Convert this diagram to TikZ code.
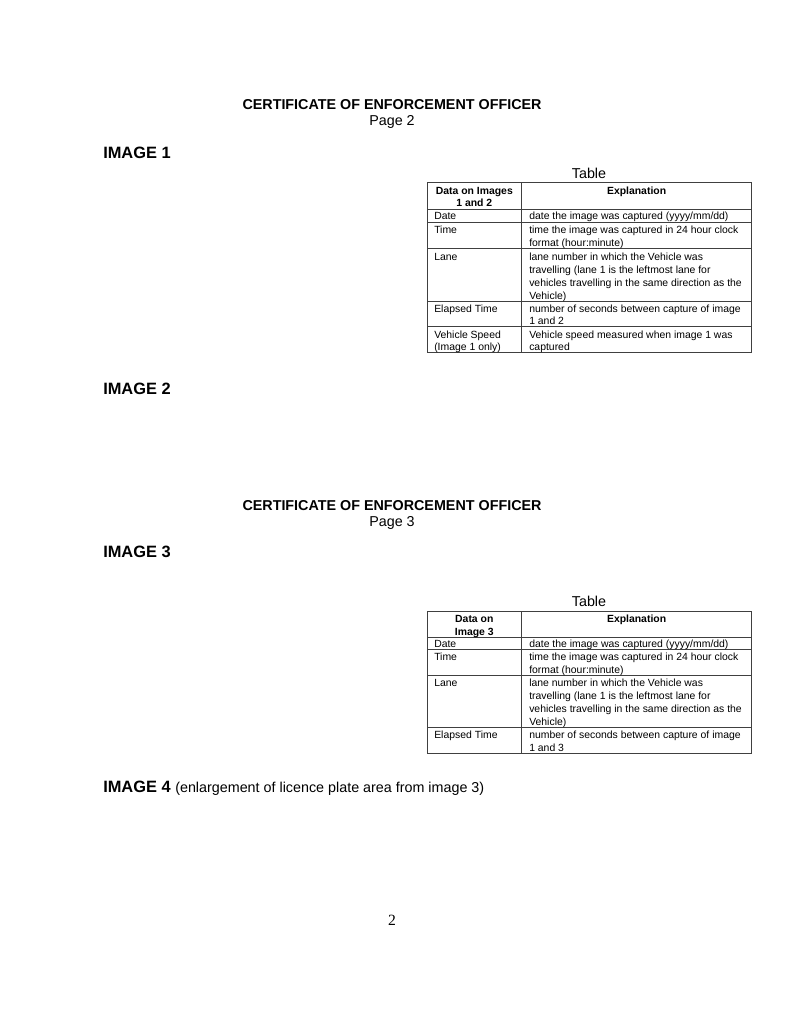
\documentclass[tikz,border=0pt]{standalone}
\usepackage{fontspec}
\setmainfont{Liberation Sans}
\newfontfamily\pagenumfont{Liberation Serif}
\tikzset{
  pagetitle/.style={font=\fontsize{11}{13}\selectfont\bfseries, anchor=base, inner sep=0pt},
  pagesub/.style={font=\fontsize{11}{13}\selectfont, anchor=base, inner sep=0pt},
  imghead/.style={font=\fontsize{12.6}{15}\selectfont\bfseries, anchor=base west, inner sep=0pt},
  tablelabel/.style={font=\fontsize{11}{13}\selectfont, anchor=base, inner sep=0pt},
  celltext/.style={font=\fontsize{8}{10}\selectfont, anchor=base west, inner sep=0pt},
  cellhead/.style={font=\fontsize{8}{10}\selectfont\bfseries, anchor=base, inner sep=0pt},
  gridline/.style={draw=black!75, line width=0.6pt},
  pagenum/.style={font=\pagenumfont\fontsize{12}{14}\selectfont, anchor=base, inner sep=0pt}
}
\begin{document}
\begin{tikzpicture}[x=0.7678pt, y=-0.7678pt]
\useasboundingbox (0,0) rectangle (800,1035);
\fill[white] (0,0) rectangle (800,1035);

% ---------- Page 2 section ----------
\node[pagetitle] (t1) at (392,110) {CERTIFICATE OF ENFORCEMENT OFFICER};
\node[pagesub] (p2) at (392,125) {Page 2};
\node[imghead] (im1) at (103,158.5) {IMAGE 1};
\node[tablelabel] (tl1) at (589,178.3) {Table};

% table 1 grid
\coordinate (a0) at (427,182.7);
\coordinate (a1) at (751.5,352.7);
\draw[gridline] (a0) rectangle (a1);
\draw[gridline] (521.7,182.7) -- (521.7,352.7);
\foreach \yy in {208.9,222.7,248.7,300.9,326.7}
  \draw[gridline] (427,\yy) -- (751.5,\yy);

% table 1 text
\node[cellhead] (h1a) at (474.3,194.2) {Data on Images};
\node[cellhead] (h1b) at (474.3,206.8) {1 and 2};
\node[cellhead] (h1c) at (636.6,194.2) {Explanation};

\node[celltext] (d1l) at (434,219.8) {Date};
\node[celltext] (d1r) at (529,219.8) {date the image was captured (yyyy/mm/dd)};

\node[celltext] (tm1l) at (434,233.8) {Time};
\node[celltext] (tm1r) at (529,233.8) {time the image was captured in 24 hour clock};
\node[celltext] (tm1r2) at (529,246.3) {format (hour:minute)};

\node[celltext] (ln1l) at (434,260.2) {Lane};
\node[celltext] (ln1r) at (529,260.2) {lane number in which the Vehicle was};
\node[celltext] (ln1r2) at (529,273.2) {travelling (lane 1 is the leftmost lane for};
\node[celltext] (ln1r3) at (529,286.2) {vehicles travelling in the same direction as the};
\node[celltext] (ln1r4) at (529,299) {Vehicle)};

\node[celltext] (el1l) at (434,312.2) {Elapsed Time};
\node[celltext] (el1r) at (529,312.2) {number of seconds between capture of image};
\node[celltext] (el1r2) at (529,324.8) {1 and 2};

\node[celltext] (vs1l) at (434,338) {Vehicle Speed};
\node[celltext] (vs1l2) at (434,350.7) {(Image 1 only)};
\node[celltext] (vs1r) at (529,338) {Vehicle speed measured when image 1 was};
\node[celltext] (vs1r2) at (529,350.7) {captured};

\node[imghead] (im2) at (103,394) {IMAGE 2};

% ---------- Page 3 section ----------
\node[pagetitle] (t2) at (392,510.3) {CERTIFICATE OF ENFORCEMENT OFFICER};
\node[pagesub] (p3) at (392,526) {Page 3};
\node[imghead] (im3) at (103,557.5) {IMAGE 3};
\node[tablelabel] (tl2) at (589,606.8) {Table};

% table 2 grid
\coordinate (b0) at (427,611);
\coordinate (b1) at (751.5,753.5);
\draw[gridline] (b0) rectangle (b1);
\draw[gridline] (521.7,611) -- (521.7,753.5);
\foreach \yy in {637,649.8,675,727.2}
  \draw[gridline] (427,\yy) -- (751.5,\yy);

% table 2 text
\node[cellhead] (h2a) at (474.3,622.4) {Data on};
\node[cellhead] (h2b) at (474.3,635) {Image 3};
\node[cellhead] (h2c) at (636.6,622.4) {Explanation};

\node[celltext] (d2l) at (434,647.4) {Date};
\node[celltext] (d2r) at (529,647.4) {date the image was captured (yyyy/mm/dd)};

\node[celltext] (tm2l) at (434,660.8) {Time};
\node[celltext] (tm2r) at (529,660.8) {time the image was captured in 24 hour clock};
\node[celltext] (tm2r2) at (529,673.2) {format (hour:minute)};

\node[celltext] (ln2l) at (434,686.6) {Lane};
\node[celltext] (ln2r) at (529,686.6) {lane number in which the Vehicle was};
\node[celltext] (ln2r2) at (529,699.6) {travelling (lane 1 is the leftmost lane for};
\node[celltext] (ln2r3) at (529,712.6) {vehicles travelling in the same direction as the};
\node[celltext] (ln2r4) at (529,725.4) {Vehicle)};

\node[celltext] (el2l) at (434,738.6) {Elapsed Time};
\node[celltext] (el2r) at (529,738.6) {number of seconds between capture of image};
\node[celltext] (el2r2) at (529,751.4) {1 and 3};

\node[imghead] (im4) at (103,792) {IMAGE 4 {\mdseries\fontsize{11}{13}\selectfont (enlargement of licence plate area from image 3)}};

\node[pagenum] (pn) at (392,925) {2};
\end{tikzpicture}
\end{document}
